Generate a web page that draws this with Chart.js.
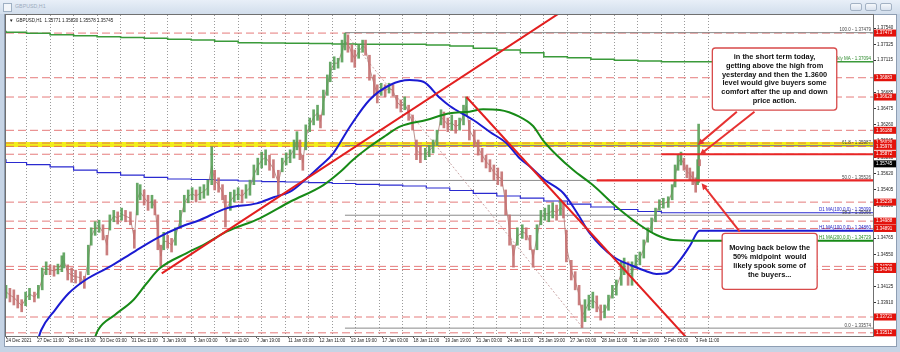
<!DOCTYPE html>
<html>
<head>
<meta charset="utf-8">
<title>GBPUSD,H1</title>
<script src="https://cdn.jsdelivr.net/npm/chart.js@4.4.1/dist/chart.umd.min.js"></script>
<style>
  html, body { margin: 0; padding: 0; }
  body { width: 900px; height: 352px; position: relative; overflow: hidden; background: #c6d4e5; font-family: 'Liberation Sans', Arial, sans-serif; }
  #titlebar { position: absolute; left: 0; top: 0; width: 900px; height: 14px; background: linear-gradient(#e8eff8, #d2deec); }
  #titlebar .icon { position: absolute; left: 3px; top: 3px; width: 7px; height: 7px; border: 1px solid #9fb0c3; background: #f3f6fa; }
  #titlebar .name { position: absolute; left: 15px; top: 3px; font-size: 5.3px; color: #9dacbe; }
  .btn { position: absolute; top: 3px; width: 12px; height: 8px; box-sizing: border-box; border: 1px solid #a3b2c4; border-radius: 2px; background: linear-gradient(#f5f8fb, #d9e2ee); }
  #panel { position: absolute; left: 4px; top: 14px; width: 893px; height: 333px; box-sizing: border-box; background: #fff; border: 1px solid #8e9eb3; }
  #chart { position: absolute; left: 0; top: 0; }
</style>
</head>
<body>
<div id="titlebar">
  <div class="icon"></div>
  <div class="name">GBPUSD,H1</div>
  <div class="btn" style="left:850px"></div>
  <div class="btn" style="left:865px"></div>
  <div class="btn" style="left:880px"></div>
</div>
<div id="panel"></div>
<canvas id="chart" width="900" height="352"></canvas>
<script>
// H1 bars are counted from the first bar on the chart (24 Dec 2021)
const xMax = 885;
const yMin = 1.3347;
const yMax = 1.37712;

const timeLabels = ['24 Dec 2021', '27 Dec 11:00', '28 Dec 19:00', '30 Dec 03:00', '31 Dec 11:00', '3 Jan 19:00',
    '5 Jan 03:00', '6 Jan 11:00', '7 Jan 19:00', '11 Jan 03:00', '12 Jan 11:00', '13 Jan 19:00', '17 Jan 03:00',
    '18 Jan 11:00', '19 Jan 19:00', '21 Jan 03:00', '24 Jan 11:00', '25 Jan 19:00', '27 Jan 03:00', '28 Jan 11:00',
    '31 Jan 19:00', '2 Feb 03:00', '3 Feb 11:00'];
const priceTicks = [1.37540, 1.37325, 1.37115, 1.36900, 1.36685, 1.36475, 1.36260, 1.36045, 1.35830, 1.35620,
    1.35405, 1.35190, 1.34975, 1.34765, 1.34550, 1.34335, 1.34125, 1.33910, 1.33700, 1.33485];

// price path, sampled every few bars
const candleBars = [
    0, 4, 8, 12, 16, 20, 24, 29, 33, 37,
    41, 45, 49, 53, 57, 59, 63, 67, 71, 76,
    80, 84, 87, 91, 95, 99, 103, 106, 110, 114,
    118, 122, 127, 131, 134, 137, 141, 145, 149, 152,
    155, 158, 161, 165, 169, 173, 178, 182, 186, 190,
    194, 198, 202, 206, 210, 213, 217, 221, 224, 229,
    233, 237, 241, 245, 249, 253, 257, 261, 265, 269,
    273, 278, 282, 286, 290, 294, 297, 300, 303, 306,
    310, 314, 318, 321, 324, 328, 331, 335, 339, 343,
    346, 349, 353, 356, 360, 364, 367, 371, 376, 379,
    383, 387, 391, 395, 399, 403, 407, 411, 415, 419,
    423, 428, 432, 436, 440, 444, 447, 451, 455, 459,
    463, 467, 470, 473, 478, 482, 486, 490, 494, 498,
    502, 506, 510, 514, 518, 522, 527, 531, 535, 538,
    542, 546, 550, 554, 558, 562, 566, 569, 572, 577,
    581, 585, 588, 591, 595, 599, 603, 607, 611, 615,
    619, 623, 628, 631, 635, 639, 643, 647, 651, 655,
    659, 663, 667, 671, 676, 680, 683, 686, 689, 692,
    695, 698, 701, 704, 706, 707, 708];
const candleHigh = [
    1.3414, 1.3410, 1.3408, 1.3401, 1.3395, 1.3405, 1.3410, 1.3405, 1.3414, 1.3437,
    1.3445, 1.3441, 1.3440, 1.3442, 1.3453, 1.3457, 1.3441, 1.3437, 1.3434, 1.3432,
    1.3426, 1.3467, 1.3490, 1.3498, 1.3500, 1.3494, 1.3480, 1.3507, 1.3513, 1.3511,
    1.3516, 1.3513, 1.3511, 1.3487, 1.3549, 1.3547, 1.3540, 1.3533, 1.3533, 1.3527,
    1.3507, 1.3467, 1.3484, 1.3480, 1.3476, 1.3490, 1.3513, 1.3533, 1.3540, 1.3543,
    1.3540, 1.3544, 1.3547, 1.3553, 1.3597, 1.3566, 1.3556, 1.3547, 1.3533, 1.3537,
    1.3540, 1.3543, 1.3540, 1.3547, 1.3553, 1.3573, 1.3582, 1.3590, 1.3593, 1.3586,
    1.3580, 1.3566, 1.3582, 1.3589, 1.3593, 1.3606, 1.3617, 1.3606, 1.3586, 1.3626,
    1.3635, 1.3646, 1.3652, 1.3639, 1.3672, 1.3692, 1.3709, 1.3716, 1.3714, 1.3738,
    1.3747, 1.3745, 1.3732, 1.3725, 1.3732, 1.3738, 1.3738, 1.3718, 1.3692, 1.3679,
    1.3681, 1.3679, 1.3681, 1.3679, 1.3665, 1.3659, 1.3663, 1.3652, 1.3639, 1.3606,
    1.3599, 1.3595, 1.3599, 1.3606, 1.3619, 1.3646, 1.3643, 1.3635, 1.3639, 1.3632,
    1.3635, 1.3652, 1.3663, 1.3632, 1.3619, 1.3606, 1.3595, 1.3586, 1.3580, 1.3573,
    1.3569, 1.3564, 1.3540, 1.3507, 1.3467, 1.3490, 1.3494, 1.3490, 1.3480, 1.3461,
    1.3494, 1.3513, 1.3516, 1.3520, 1.3523, 1.3520, 1.3527, 1.3523, 1.3487, 1.3447,
    1.3432, 1.3414, 1.3388, 1.3395, 1.3401, 1.3405, 1.3400, 1.3388, 1.3388, 1.3401,
    1.3414, 1.3421, 1.3445, 1.3450, 1.3445, 1.3445, 1.3454, 1.3458, 1.3474, 1.3490,
    1.3503, 1.3516, 1.3527, 1.3529, 1.3531, 1.3547, 1.3573, 1.3586, 1.3590, 1.3582,
    1.3573, 1.3569, 1.3564, 1.3556, 1.3580, 1.3627, 1.3580];
const candleLow = [
    1.3397, 1.3392, 1.3388, 1.3384, 1.3379, 1.3387, 1.3395, 1.3392, 1.3397, 1.3408,
    1.3428, 1.3428, 1.3426, 1.3429, 1.3432, 1.3437, 1.3421, 1.3418, 1.3417, 1.3416,
    1.3410, 1.3428, 1.3467, 1.3480, 1.3484, 1.3474, 1.3454, 1.3487, 1.3498, 1.3495,
    1.3500, 1.3498, 1.3494, 1.3463, 1.3507, 1.3527, 1.3520, 1.3513, 1.3516, 1.3507,
    1.3461, 1.3438, 1.3461, 1.3463, 1.3458, 1.3467, 1.3490, 1.3511, 1.3523, 1.3527,
    1.3524, 1.3527, 1.3529, 1.3533, 1.3547, 1.3540, 1.3537, 1.3527, 1.3491, 1.3513,
    1.3524, 1.3527, 1.3523, 1.3529, 1.3533, 1.3547, 1.3560, 1.3569, 1.3573, 1.3566,
    1.3556, 1.3533, 1.3564, 1.3573, 1.3576, 1.3582, 1.3593, 1.3580, 1.3566, 1.3593,
    1.3617, 1.3626, 1.3632, 1.3622, 1.3639, 1.3665, 1.3683, 1.3699, 1.3701, 1.3709,
    1.3725, 1.3722, 1.3709, 1.3702, 1.3714, 1.3722, 1.3718, 1.3685, 1.3665, 1.3655,
    1.3665, 1.3663, 1.3668, 1.3664, 1.3648, 1.3643, 1.3646, 1.3632, 1.3619, 1.3580,
    1.3576, 1.3580, 1.3584, 1.3589, 1.3599, 1.3626, 1.3622, 1.3617, 1.3619, 1.3615,
    1.3619, 1.3626, 1.3639, 1.3606, 1.3597, 1.3586, 1.3577, 1.3569, 1.3564, 1.3553,
    1.3547, 1.3545, 1.3507, 1.3467, 1.3438, 1.3467, 1.3476, 1.3474, 1.3461, 1.3438,
    1.3461, 1.3494, 1.3500, 1.3498, 1.3503, 1.3500, 1.3507, 1.3503, 1.3445, 1.3421,
    1.3408, 1.3388, 1.3358, 1.3366, 1.3381, 1.3384, 1.3379, 1.3368, 1.3371, 1.3381,
    1.3397, 1.3401, 1.3414, 1.3428, 1.3414, 1.3414, 1.3437, 1.3441, 1.3450, 1.3471,
    1.3484, 1.3498, 1.3513, 1.3516, 1.3517, 1.3527, 1.3544, 1.3566, 1.3573, 1.3566,
    1.3556, 1.3553, 1.3547, 1.3537, 1.3547, 1.3550, 1.3572];

// hourly moving averages
const ma100Bars = [31, 36, 50, 64, 81, 106, 132, 157, 178, 198, 225, 256, 274, 290, 305, 320, 334, 351, 371, 392,
    412, 426, 443, 453, 477, 494, 511, 524, 535, 550, 569, 583, 596, 620, 640, 653, 664, 674, 688, 698, 708, 885];
const ma100 = [1.33351, 1.33549, 1.33813, 1.34034, 1.34210, 1.34386, 1.34593, 1.34782, 1.34910, 1.35003,
    1.35157, 1.35223, 1.35307, 1.35377, 1.35531, 1.35707, 1.35884, 1.36236, 1.36589, 1.36787,
    1.36853, 1.36830, 1.36615, 1.36509, 1.36324, 1.36166, 1.36016, 1.35822, 1.35707, 1.35531,
    1.35356, 1.35095, 1.34827, 1.34518, 1.34395, 1.34329, 1.34289, 1.34298, 1.34474, 1.34659, 1.34860, 1.34860];
const ma200Bars = [88, 94, 111, 130, 143, 157, 184, 203, 225, 259, 290, 324, 341, 354, 371, 387, 402, 429, 453, 473,
    487, 504, 524, 538, 548, 562, 579, 599, 623, 647, 664, 681, 708, 885];
const ma200 = [1.33351, 1.33549, 1.33747, 1.33946, 1.34157, 1.34364, 1.34563, 1.34685, 1.34848, 1.35025,
    1.35244, 1.35465, 1.35637, 1.35796, 1.35971, 1.36113, 1.36236, 1.36324, 1.36413, 1.36434,
    1.36466, 1.36456, 1.36368, 1.36245, 1.36060, 1.35862, 1.35663, 1.35465, 1.35178, 1.34937,
    1.34805, 1.34738, 1.34729, 1.34729];

// daily averages, one value per trading day
const dayStarts = [0, 21, 45, 69, 93, 117, 141, 165, 189, 213, 237, 261, 285, 309, 333, 357, 381, 405, 429, 453,
    477, 501, 525, 549, 573, 597, 621, 645, 669, 693];
const d1Ma100 = [1.35805, 1.35763, 1.35736, 1.35706, 1.35663, 1.35628, 1.35597, 1.35567, 1.35545, 1.35538,
    1.35531, 1.35518, 1.35511, 1.35505, 1.35496, 1.35485, 1.35475, 1.35465, 1.35452, 1.35426,
    1.35393, 1.35356, 1.35320, 1.35293, 1.35254, 1.35214, 1.35175, 1.35142, 1.35115, 1.35099];
const wklyMa = [1.37504, 1.37483, 1.37470, 1.37451, 1.37438, 1.37425, 1.37414, 1.37404, 1.37392, 1.37381,
    1.37364, 1.37346, 1.37342, 1.37338, 1.37334, 1.37329, 1.37327, 1.37326, 1.37325, 1.37315,
    1.37302, 1.37272, 1.37249, 1.37214, 1.37161, 1.37148, 1.37126, 1.37113, 1.37104, 1.37094];

// drawn objects
const dashedLevels = [1.37473, 1.36883, 1.36628, 1.36188, 1.36020, 1.35976, 1.35872, 1.35239, 1.34988, 1.34891,
    1.34390, 1.34349, 1.33721, 1.33512];
const yellowLevel = 1.36000;
const fibNames = ['100.0', '61.8', '50.0', '38.2', '0.0'];
const fibPrices = [1.37479, 1.35987, 1.35526, 1.35066, 1.33574];
const fibFrom = 346;
const fibDiagonal = [[346, 1.37479], [589, 1.33574]];
const trendUp = [[159, 1.34298], [565, 1.37738]];
const trendDown = [[470, 1.36628], [694, 1.33457]];
const solidLevels = [1.35872, 1.35526];
const solidFrom = [669, 603];
const lastPrice = 1.35745;
const quote = 'GBPUSD,H1  1.35771 1.35830 1.35578 1.35745';

const noteTop = ['in the short term today,', 'getting above the high from', 'yesterday and then the 1.3600',
    'level would give buyers some', 'comfort after the up and down', 'price action.'];
const noteBottom = ['Moving back below the', '50% midpoint  would', 'likely spook some of', 'the buyers...'];
const noteTopBox = [721, 848, 1.37276, 1.36456];
const noteBottomBox = [731, 828, 1.34827, 1.34087];
const arrows = [
    [[746, 1.36434], [706, 1.35994]],
    [[764, 1.36434], [708, 1.35862]],
    [[749, 1.34848], [710, 1.35488]]
];

const FONT = '"Liberation Sans", Arial, sans-serif';
const labelBars = timeLabels.map((_, i) => i * 32);
const gridBars = [];
for (let b = 21; b <= 717; b += 24) gridBars.push(b);
const xTicks = [...labelBars, ...gridBars].sort((a, b) => a - b);

const flat = (from, price) => [{ x: from, y: price }, { x: xMax, y: price }];
const line = (data, color, width, order, extra = {}) => ({
    type: 'line', data, borderColor: color, borderWidth: width, pointRadius: 0,
    fill: false, order, ...extra
});

const mid = i => (candleHigh[i] + candleLow[i]) / 2;
const candleColors = candleBars.map((_, i) => (i > 0 && mid(i) < mid(i - 1)) ? 'rgba(196,112,112,0.9)' : 'rgba(86,158,86,0.9)');

const datasets = [];
datasets.push(line(flat(0, yellowLevel), '#f2ee1a', 5, 100));
dashedLevels.forEach(p => datasets.push(line(flat(0, p), 'rgba(222,90,90,0.8)', 1, 90, { borderDash: [8, 4] })));
fibPrices.forEach(p => datasets.push(line(flat(fibFrom, p), '#8a8a8a', 1, 85)));
datasets.push(line(fibDiagonal.map(([x, y]) => ({ x, y })), '#c9a5a5', 1, 80, { borderDash: [2, 2] }));
datasets.push(line([...dayStarts.map((b, i) => ({ x: b, y: wklyMa[i] })), { x: xMax, y: wklyMa[wklyMa.length - 1] }],
    '#3a9a3a', 1.5, 70, { stepped: 'after' }));
datasets.push(line([...dayStarts.map((b, i) => ({ x: b, y: d1Ma100[i] })), { x: xMax, y: d1Ma100[d1Ma100.length - 1] }],
    '#2a2ad0', 1.2, 70, { stepped: 'after' }));
// thin trace through the bar midpoints so the price path reads as one band
datasets.push(line(candleBars.map((b, i) => ({ x: b, y: mid(i) })), 'rgba(170,120,115,0.8)', 1, 61));
datasets.push({
    type: 'bar',
    data: candleBars.map((b, i) => ({ x: b, y: [candleLow[i], candleHigh[i]] })),
    backgroundColor: candleColors,
    borderWidth: 0,
    barThickness: 2,
    grouped: false,
    order: 60
});
datasets.push(line(ma200Bars.map((b, i) => ({ x: b, y: ma200[i] })), '#178a17', 2, 50, { cubicInterpolationMode: 'monotone' }));
datasets.push(line(ma100Bars.map((b, i) => ({ x: b, y: ma100[i] })), '#1b1bd2', 2, 50, { cubicInterpolationMode: 'monotone' }));
datasets.push(line(trendUp.map(([x, y]) => ({ x, y })), '#e21f1f', 2, 40));
datasets.push(line(trendDown.map(([x, y]) => ({ x, y })), '#e21f1f', 2, 40));
solidLevels.forEach((p, i) => datasets.push(line(flat(solidFrom[i], p), '#e82626', 2.2, 40)));

function drawArrow(ctx, x1, y1, x2, y2) {
    const ang = Math.atan2(y2 - y1, x2 - x1);
    const len = 7;
    ctx.beginPath();
    ctx.moveTo(x1, y1);
    ctx.lineTo(x2 - Math.cos(ang) * len * 0.8, y2 - Math.sin(ang) * len * 0.8);
    ctx.stroke();
    ctx.beginPath();
    ctx.moveTo(x2, y2);
    ctx.lineTo(x2 - len * Math.cos(ang - 0.45), y2 - len * Math.sin(ang - 0.45));
    ctx.lineTo(x2 - len * Math.cos(ang + 0.45), y2 - len * Math.sin(ang + 0.45));
    ctx.closePath();
    ctx.fill();
}

function drawNote(ctx, x, y, box, lines) {
    const left = x.getPixelForValue(box[0]);
    const right = x.getPixelForValue(box[1]);
    const top = y.getPixelForValue(box[2]);
    const bottom = y.getPixelForValue(box[3]);
    ctx.fillStyle = '#fff';
    ctx.strokeStyle = '#d84a4a';
    ctx.lineWidth = 1.3;
    ctx.beginPath();
    ctx.roundRect(left, top, right - left, bottom - top, 3);
    ctx.fill();
    ctx.stroke();
    ctx.fillStyle = '#111';
    ctx.font = 'bold 7.4px ' + FONT;
    ctx.textAlign = 'center';
    ctx.textBaseline = 'middle';
    const lh = 8.9;
    const start = (top + bottom) / 2 - (lines.length - 1) * lh / 2;
    lines.forEach((t, i) => ctx.fillText(t, (left + right) / 2, start + i * lh));
}

const overlay = {
    id: 'overlay',
    afterDatasetsDraw(chart) {
        const { ctx, chartArea: a, scales: { x, y } } = chart;
        ctx.save();

        // quote line top-left
        ctx.font = '4.5px ' + FONT;
        ctx.fillStyle = '#222';
        ctx.textBaseline = 'middle';
        ctx.textAlign = 'left';
        ctx.fillText('\u25BC', a.left + 3, a.top + 6);
        ctx.fillText(quote, a.left + 10, a.top + 6);

        // object descriptions at the right edge
        const tags = [
            [fibNames[0] + ' - ' + fibPrices[0].toFixed(5), fibPrices[0], '#444'],
            ['Wkly MA - ' + wklyMa[wklyMa.length - 1].toFixed(5), wklyMa[wklyMa.length - 1], '#2e8b2e'],
            [fibNames[1] + ' - ' + fibPrices[1].toFixed(5), fibPrices[1], '#444'],
            [fibNames[2] + ' - ' + fibPrices[2].toFixed(5), fibPrices[2], '#444'],
            ['D1 MA(100,0,0) - ' + d1Ma100[d1Ma100.length - 1].toFixed(5), d1Ma100[d1Ma100.length - 1], '#2323c8'],
            [fibNames[3] + ' - ' + fibPrices[3].toFixed(5), fibPrices[3], '#444'],
            ['H1 MA(100,0,0) - ' + ma100[ma100.length - 1].toFixed(5), ma100[ma100.length - 1], '#2323c8'],
            ['H1 MA(200,0,0) - ' + ma200[ma200.length - 1].toFixed(5), ma200[ma200.length - 1], '#1f8a1f'],
            [fibNames[4] + ' - ' + fibPrices[4].toFixed(5), fibPrices[4], '#444']
        ];
        ctx.textAlign = 'right';
        ctx.textBaseline = 'bottom';
        tags.forEach(([t, p, c]) => {
            ctx.fillStyle = c;
            ctx.fillText(t, a.right - 2, y.getPixelForValue(p) - 0.5);
        });

        // arrows
        ctx.strokeStyle = '#e63232';
        ctx.fillStyle = '#e63232';
        ctx.lineWidth = 2;
        arrows.forEach(([from, to]) => drawArrow(ctx,
            x.getPixelForValue(from[0]), y.getPixelForValue(from[1]),
            x.getPixelForValue(to[0]), y.getPixelForValue(to[1])));

        drawNote(ctx, x, y, noteTopBox, noteTop);
        drawNote(ctx, x, y, noteBottomBox, noteBottom);
        ctx.restore();
    },
    afterDraw(chart) {
        const { ctx, chartArea: a, scales: { y } } = chart;
        ctx.save();
        ctx.strokeStyle = '#707070';
        ctx.lineWidth = 1;
        ctx.strokeRect(a.left - 0.5, a.top - 0.5, a.right - a.left + 1, a.bottom - a.top + 1);

        // price tags on the axis
        ctx.font = '4.5px ' + FONT;
        ctx.textAlign = 'left';
        ctx.textBaseline = 'middle';
        const tag = (p, bg) => {
            const py = y.getPixelForValue(p);
            ctx.fillStyle = bg;
            ctx.fillRect(a.right + 1, py - 3.5, 22, 7);
            ctx.fillStyle = '#fff';
            ctx.fillText(p.toFixed(5), a.right + 3, py);
        };
        dashedLevels.forEach(p => tag(p, '#e3120b'));
        tag(lastPrice, '#000');
        ctx.restore();
    }
};

const isLabelTick = t => t && labelBars.includes(t.value);

new Chart(document.getElementById('chart').getContext('2d'), {
    type: 'bar',
    data: { datasets },
    options: {
        responsive: false,
        animation: false,
        events: [],
        layout: { padding: { left: 6, top: 15, right: 3, bottom: 6 } },
        plugins: { legend: { display: false }, tooltip: { enabled: false } },
        scales: {
            x: {
                type: 'linear',
                min: 0,
                max: xMax,
                bounds: 'data',
                offset: false,
                afterBuildTicks: s => { s.ticks = xTicks.map(v => ({ value: v })); },
                afterFit: s => { s.height = 10; },
                grid: {
                    offset: false,
                    lineWidth: 1,
                    color: c => isLabelTick(c.tick) ? 'rgba(0,0,0,0)' : '#9a9a9a',
                    tickLength: 2,
                    tickColor: c => isLabelTick(c.tick) ? '#555' : 'rgba(0,0,0,0)'
                },
                border: { display: false, dash: [1, 2] },
                ticks: {
                    autoSkip: false,
                    maxRotation: 0,
                    minRotation: 0,
                    align: 'start',
                    padding: 0,
                    color: '#222',
                    font: { size: 4.5, family: FONT },
                    callback: v => {
                        const i = labelBars.indexOf(v);
                        return i >= 0 ? timeLabels[i] : '';
                    }
                }
            },
            y: {
                type: 'linear',
                position: 'right',
                min: yMin,
                max: yMax,
                bounds: 'data',
                afterBuildTicks: s => { s.ticks = priceTicks.map(v => ({ value: v })); },
                afterFit: s => { s.width = 24; },
                grid: { drawOnChartArea: false, tickLength: 3, tickColor: '#333' },
                border: { display: false },
                ticks: {
                    padding: 1,
                    color: '#222',
                    font: { size: 4.5, family: FONT },
                    callback: v => v.toFixed(5)
                }
            }
        }
    },
    plugins: [overlay]
});
</script>
</body>
</html>
